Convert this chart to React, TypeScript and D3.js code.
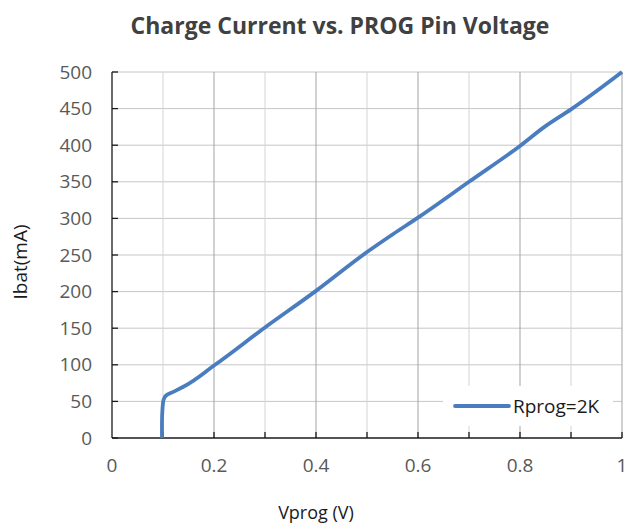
import React, { useEffect, useRef } from 'react'
import * as d3 from 'd3'

const vprog = [0.098, 0.098, 0.099, 0.101, 0.106, 0.12, 0.14, 0.2, 0.3, 0.4, 0.5, 0.55, 0.6, 0.7, 0.8, 0.85, 0.9, 1.0]
const ibat = [0, 20, 40, 52, 58, 63, 70, 99, 151, 201, 254, 278, 301, 350, 399, 426, 449, 500]
const xTicks = [0, 0.2, 0.4, 0.6, 0.8, 1]
const xGrid = [0.1, 0.2, 0.3, 0.4, 0.5, 0.6, 0.7, 0.8, 0.9, 1]
const yTicks = [0, 50, 100, 150, 200, 250, 300, 350, 400, 450, 500]
const seriesName = 'Rprog=2K'

const W = 627
const H = 526
const font = '"Open Sans", sans-serif'

const App = () => {
  const svgRef = useRef<SVGSVGElement>(null)

  useEffect(() => {
    const svg = d3.select(svgRef.current)
    svg.selectAll('*').remove()

    const x = d3.scaleLinear([0, 1], [112, 622])
    const y = d3.scaleLinear([0, 500], [438, 72])

    // horizontal gridlines
    svg.append('g').selectAll('line').data(yTicks.slice(1)).join('line')
      .attr('x1', x(0)).attr('x2', x(1))
      .attr('y1', d => y(d)).attr('y2', d => y(d))
      .attr('stroke', '#c6c6c6').attr('stroke-width', 1)

    // vertical gridlines, every other one darker
    svg.append('g').selectAll('line').data(xGrid).join('line')
      .attr('x1', d => x(d)).attr('x2', d => x(d))
      .attr('y1', y(0)).attr('y2', y(500))
      .attr('stroke', (d: number) => Math.round(d * 10) % 2 === 0 ? '#a3a3a3' : '#d4d4d4')
      .attr('stroke-width', 1)

    // axes
    svg.append('line').attr('x1', x(0)).attr('x2', x(0)).attr('y1', y(0)).attr('y2', y(500))
      .attr('stroke', '#1a1a1a').attr('stroke-width', 1.3)
    svg.append('line').attr('x1', x(0)).attr('x2', x(1)).attr('y1', y(0)).attr('y2', y(0))
      .attr('stroke', '#1a1a1a').attr('stroke-width', 1.3)
    svg.append('g').selectAll('line').data(yTicks).join('line')
      .attr('x1', x(0)).attr('x2', x(0) + 6)
      .attr('y1', d => y(d)).attr('y2', d => y(d))
      .attr('stroke', '#1a1a1a').attr('stroke-width', 1.3)
    svg.append('g').selectAll('line').data(xGrid).join('line')
      .attr('x1', d => x(d)).attr('x2', d => x(d))
      .attr('y1', y(0)).attr('y2', y(0) - 6)
      .attr('stroke', '#1a1a1a').attr('stroke-width', 1.3)

    // tick labels
    svg.append('g').selectAll('text').data(yTicks).join('text')
      .attr('x', 92).attr('y', d => y(d)).attr('dy', '0.35em')
      .attr('text-anchor', 'end').attr('font-family', font).attr('font-size', 19)
      .attr('fill', '#595959').text(d => d)
    svg.append('g').selectAll('text').data(xTicks).join('text')
      .attr('x', d => x(d)).attr('y', 472)
      .attr('text-anchor', 'middle').attr('font-family', font).attr('font-size', 19)
      .attr('fill', '#595959').text(d => d)

    // series
    const pts = vprog.map((v, i) => [v, ibat[i]] as [number, number])
    const line = d3.line<[number, number]>().x(d => x(d[0])).y(d => y(d[1])).curve(d3.curveMonotoneY)
    svg.append('path').datum(pts).attr('d', line)
      .attr('fill', 'none').attr('stroke', '#4a7dbf').attr('stroke-width', 3.8)
      .attr('stroke-linejoin', 'round')

    // legend
    svg.append('rect').attr('x', 443).attr('y', 386).attr('width', 170).attr('height', 40).attr('fill', '#fff')
    svg.append('line').attr('x1', 455).attr('x2', 509).attr('y1', 406).attr('y2', 406)
      .attr('stroke', '#4a7dbf').attr('stroke-width', 3.8).attr('stroke-linecap', 'round')
    svg.append('text').attr('x', 513).attr('y', 406).attr('dy', '0.35em')
      .attr('font-family', font).attr('font-size', 19).attr('fill', '#1a1a1a').text(seriesName)

    // titles
    svg.append('text').attr('x', 340).attr('y', 34).attr('text-anchor', 'middle')
      .attr('font-family', font).attr('font-size', 23).attr('font-weight', 'bold')
      .attr('fill', '#404040').text('Charge Current vs. PROG Pin Voltage')
    svg.append('text').attr('x', 316).attr('y', 519).attr('text-anchor', 'middle')
      .attr('font-family', font).attr('font-size', 18).attr('fill', '#1a1a1a').text('Vprog (V)')
    svg.append('text').attr('transform', 'translate(27,262) rotate(-90)').attr('text-anchor', 'middle')
      .attr('font-family', font).attr('font-size', 19).attr('fill', '#1a1a1a').text('Ibat(mA)')
  }, [])

  return (
    <svg ref={svgRef} width={W} height={H} style={{ position: 'absolute', left: 0, top: 0, background: '#fff' }} />
  )
}

export default App
